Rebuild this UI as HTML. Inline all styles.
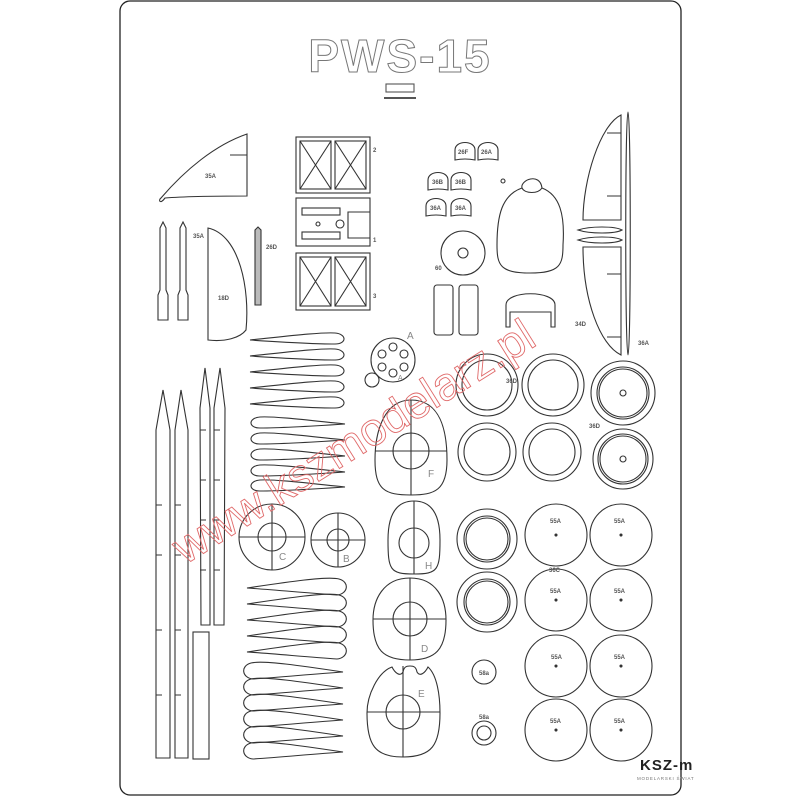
<!DOCTYPE html>
<html><head><meta charset="utf-8"><style>
html,body{margin:0;padding:0;background:#fff;}
svg{display:block;}
text{font-family:"Liberation Sans",sans-serif;}
</style></head><body>
<svg width="800" height="800" viewBox="0 0 800 800" xmlns="http://www.w3.org/2000/svg">
<defs>
<path id="afR" d="M0,0 C30,-3 70,-8 85,-7 C97,-6 97,4 85,4 C60,4 30,2 0,0Z"/>
<path id="afB" d="M0,0 C40,-6 80,-12 92,-9 C103,-6 101,6 90,7 C60,5 30,2 0,0Z"/>
<g id="dome"><path d="M-10,8 L-10,-2 C-10,-12 10,-12 10,-2 L10,8 Q0,6 -10,8Z"/></g>
<g id="disc"><circle r="31"/><circle r="1" fill="#333"/></g>
</defs>
<rect x="0" y="0" width="800" height="800" fill="#fff"/>
<rect x="120" y="1" width="561" height="794" rx="10" fill="#fff" stroke="#222" stroke-width="1.3"/>

<g fill="none" stroke="#333" stroke-width="1.1">
<!-- title -->
<text x="400" y="72" text-anchor="middle" font-size="46" font-weight="bold" fill="#fff" stroke="#777" stroke-width="1" font-family="Liberation Serif,serif" letter-spacing="2">PWS-15</text>
<rect x="386" y="84" width="28" height="8" stroke="#555"/>
<line x1="384" y1="98" x2="416" y2="98" stroke="#555" stroke-width="2"/>

<!-- 35A -->
<path d="M161,198 C185,170 215,145 247,134 L247,196 C220,196 190,196 165,198 C160,205 158,200 161,198Z"/>
<line x1="230" y1="155" x2="247" y2="155"/>
<!-- spars top-left -->
<path d="M160,228 L163,222 L166,228 L166,290 L168,295 L168,320 L158,320 L158,295 L160,290Z"/>
<path d="M180,228 L183,222 L186,228 L186,290 L188,295 L188,320 L178,320 L178,295 L180,290Z"/>
<path d="M255,230 L258,227 L261,230 L261,305 L255,305Z" fill="#bbb"/>
<path d="M208,228 C240,235 250,290 246,330 C240,338 225,342 208,340Z"/>
<!-- parts 2,1,3 -->
<rect x="296" y="137" width="74" height="56"/>
<rect x="300" y="141" width="31" height="48"/><rect x="335" y="141" width="31" height="48"/>
<path d="M300,141 L331,189 M331,141 L300,189 M335,141 L366,189 M366,141 L335,189"/>
<rect x="296" y="198" width="74" height="48"/>
<rect x="302" y="208" width="38" height="7"/><rect x="302" y="232" width="38" height="7"/>
<path d="M370,212 L348,212 L348,238 L370,238"/>
<circle cx="318" cy="224" r="2"/><circle cx="340" cy="224" r="4"/>
<rect x="296" y="253" width="74" height="57"/>
<rect x="300" y="257" width="31" height="49"/><rect x="335" y="257" width="31" height="49"/>
<path d="M300,257 L331,306 M331,257 L300,306 M335,257 L366,306 M366,257 L335,306"/>

<!-- airfoils set1 -->
<g transform="translate(250,340)"><use href="#afR"/></g>
<g transform="translate(250,356)"><use href="#afR"/></g>
<g transform="translate(250,372)"><use href="#afR"/></g>
<g transform="translate(250,388)"><use href="#afR"/></g>
<g transform="translate(250,404)"><use href="#afR"/></g>
<!-- set2 -->
<g transform="translate(345,424) scale(-1,1)"><use href="#afR"/></g>
<g transform="translate(345,440) scale(-1,1)"><use href="#afR"/></g>
<g transform="translate(345,456) scale(-1,1)"><use href="#afR"/></g>
<g transform="translate(345,472) scale(-1,1)"><use href="#afR"/></g>
<g transform="translate(345,487) scale(-1,1)"><use href="#afR"/></g>
<!-- set3 -->
<g transform="translate(247,588)"><use href="#afB"/></g>
<g transform="translate(247,604)"><use href="#afB"/></g>
<g transform="translate(247,620)"><use href="#afB"/></g>
<g transform="translate(247,636)"><use href="#afB"/></g>
<g transform="translate(247,652)"><use href="#afB"/></g>
<!-- set4 -->
<g transform="translate(343,672) scale(-1,1)"><use href="#afB"/></g>
<g transform="translate(343,688) scale(-1,1)"><use href="#afB"/></g>
<g transform="translate(343,704) scale(-1,1)"><use href="#afB"/></g>
<g transform="translate(343,720) scale(-1,1)"><use href="#afB"/></g>
<g transform="translate(343,736) scale(-1,1)"><use href="#afB"/></g>
<g transform="translate(343,752) scale(-1,1)"><use href="#afB"/></g>

<!-- long spars -->
<path d="M156,430 L163,390 L170,430 L170,758 L156,758Z"/>
<path d="M175,430 L181,390 L188,430 L188,758 L175,758Z"/>
<path d="M200,408 L205,368 L210,408 L210,625 L201,625Z"/>
<path d="M214,408 L220,368 L225,408 L224,625 L214,625Z"/>
<rect x="193" y="632" width="16" height="127"/>
<path d="M156,505 L162,505 M156,555 L162,555 M156,630 L162,630 M156,695 L162,695 M175,505 L181,505 M175,555 L181,555 M175,630 L181,630 M175,695 L181,695 M200,430 L206,430 M200,480 L206,480 M200,520 L206,520 M200,570 L206,570 M214,430 L220,430 M214,480 L220,480 M214,520 L220,520 M214,570 L220,570"/>

<!-- C B -->
<circle cx="272" cy="537" r="33"/><circle cx="272" cy="537" r="14"/>
<path d="M239,537 L305,537 M272,504 L272,570"/>
<circle cx="338" cy="540" r="27"/><circle cx="338" cy="540" r="11"/>
<path d="M311,540 L365,540 M338,513 L338,567"/>
<!-- A -->
<circle cx="393" cy="360" r="22"/>
<circle cx="393" cy="347" r="4"/><circle cx="404" cy="354" r="4"/><circle cx="404" cy="367" r="4"/><circle cx="393" cy="373" r="4"/><circle cx="382" cy="367" r="4"/><circle cx="382" cy="354" r="4"/>
<circle cx="372" cy="380" r="7"/>
<!-- F -->
<path d="M411,400 C440,400 447,430 447,460 C447,490 435,495 411,495 C385,495 375,490 375,460 C375,430 385,400 411,400Z"/>
<circle cx="411" cy="451" r="18"/><path d="M375,451 L447,451 M411,400 L411,495"/>
<!-- H -->
<path d="M414,501 C432,501 440,515 440,540 C440,570 438,574 414,574 C390,574 388,570 388,540 C388,515 396,501 414,501Z"/>
<circle cx="414" cy="543" r="15"/><path d="M414,501 L414,574"/>
<!-- D -->
<path d="M410,578 C437,578 446,600 446,620 C446,650 435,660 410,660 C383,660 373,650 373,620 C373,600 383,578 410,578Z"/>
<circle cx="410" cy="619" r="17"/><path d="M373,619 L446,619 M410,578 L410,660"/>
<!-- E -->
<path d="M392,667 C395,673 400,677 403,672 C404,667 406,666 410,666 C414,666 416,667 417,672 C420,677 425,673 428,667 C437,675 440,695 440,713 C440,745 432,757 403,757 C375,757 367,745 367,713 C367,695 378,672 392,667Z"/>
<circle cx="403" cy="712" r="17"/><path d="M367,712 L440,712 M403,666 L403,757"/>

<!-- rings -->
<circle cx="487" cy="385" r="31"/><circle cx="487" cy="385" r="25"/>
<circle cx="553" cy="385" r="31"/><circle cx="553" cy="385" r="25"/>
<circle cx="623" cy="393" r="32"/><circle cx="623" cy="393" r="26"/><circle cx="623" cy="393" r="24"/><circle cx="623" cy="393" r="3"/>
<circle cx="487" cy="452" r="29"/><circle cx="487" cy="452" r="23"/>
<circle cx="552" cy="452" r="29"/><circle cx="552" cy="452" r="23"/>
<circle cx="623" cy="459" r="30"/><circle cx="623" cy="459" r="25"/><circle cx="623" cy="459" r="23"/><circle cx="623" cy="459" r="3"/>
<circle cx="487" cy="539" r="30"/><circle cx="487" cy="539" r="23"/><circle cx="487" cy="539" r="21"/>
<circle cx="487" cy="602" r="30"/><circle cx="487" cy="602" r="23"/><circle cx="487" cy="602" r="21"/>
<use href="#disc" x="556" y="535"/><use href="#disc" x="621" y="535"/>
<use href="#disc" x="556" y="600"/><use href="#disc" x="621" y="600"/>
<use href="#disc" x="556" y="666"/><use href="#disc" x="621" y="666"/>
<use href="#disc" x="556" y="730"/><use href="#disc" x="621" y="730"/>
<circle cx="484" cy="672" r="12"/>
<circle cx="484" cy="733" r="12"/><circle cx="484" cy="733" r="7"/>

<!-- top right small -->
<use href="#dome" x="465" y="152"/><use href="#dome" x="488" y="152"/>
<use href="#dome" x="438" y="182"/><use href="#dome" x="461" y="182"/>
<use href="#dome" x="436" y="208"/><use href="#dome" x="461" y="208"/>
<circle cx="503" cy="181" r="2"/>
<path d="M522,188 C520,180 540,172 542,188 C560,195 565,215 563,245 C563,265 560,273 530,273 C500,273 497,265 497,245 C497,215 502,195 522,188Z"/>
<path d="M522,188 C525,194 538,194 542,188"/>
<circle cx="463" cy="253" r="22"/><circle cx="463" cy="253" r="5"/>
<rect x="434" y="285" width="19" height="50" rx="3"/><rect x="459" y="285" width="19" height="50" rx="3"/>
<path d="M506,327 L506,305 C506,290 555,290 555,305 L555,327 L551,327 L551,312 L510,312 L510,327Z"/>
<!-- fin -->
<path d="M628,112 C631,112 631,355 628,355 C625,355 625,112 628,112Z"/>
<path d="M621,115 C600,125 583,180 583,220 L621,220Z"/>
<path d="M583,247 L621,247 L621,355 C600,345 583,300 583,247Z"/>
<path d="M578,230 C590,226 615,226 622,230 C615,234 590,234 578,230Z"/>
<path d="M578,240 C590,236 615,236 622,240 C615,244 590,244 578,240Z"/>
<path d="M607,133 L621,133 M607,196 L621,196 M607,274 L621,274 M607,337 L621,337"/>
</g>

<!-- labels -->
<g font-size="6" font-weight="bold" fill="#555">
<text x="205" y="178">35A</text><text x="193" y="238">35A</text><text x="218" y="300">18D</text><text x="266" y="249">26D</text>
<text x="373" y="152">2</text><text x="373" y="242">1</text><text x="373" y="298">3</text>
<text x="458" y="154">26F</text><text x="481" y="154">26A</text><text x="432" y="184">36B</text><text x="455" y="184">36B</text>
<text x="430" y="210">36A</text><text x="455" y="210">36A</text><text x="435" y="270">60</text>
<text x="506" y="383">36D</text><text x="589" y="428">36D</text><text x="549" y="572">36C</text>
<text x="575" y="326">34D</text><text x="638" y="345">36A</text>
<text x="550" y="523">55A</text><text x="614" y="523">55A</text><text x="550" y="593">55A</text><text x="614" y="593">55A</text>
<text x="551" y="659">55A</text><text x="614" y="659">55A</text><text x="550" y="723">55A</text><text x="614" y="723">55A</text>
<text x="479" y="675">58a</text><text x="479" y="719">58a</text>
</g>
<g font-size="10" fill="#888">
<text x="407" y="339">A</text><text x="398" y="380" font-size="7">A</text>
<text x="428" y="477">F</text><text x="425" y="569">H</text><text x="421" y="652">D</text><text x="418" y="697">E</text>
<text x="279" y="560">C</text><text x="343" y="562">B</text>
</g>

<!-- watermark -->
<text x="0" y="0" transform="translate(185,565) rotate(-32)" font-size="46" fill="none" stroke="#e06a6a" stroke-width="0.9" font-family="Liberation Sans,sans-serif">www.kszmodelarz.pl</text>

<!-- logo -->
<text x="640" y="770" font-size="15" font-weight="bold" fill="#222" letter-spacing="1">KSZ-m</text>
<text x="637" y="780" font-size="4.5" fill="#777" letter-spacing="0.8">MODELARSKI ŚWIAT</text>
</svg>
</body></html>
